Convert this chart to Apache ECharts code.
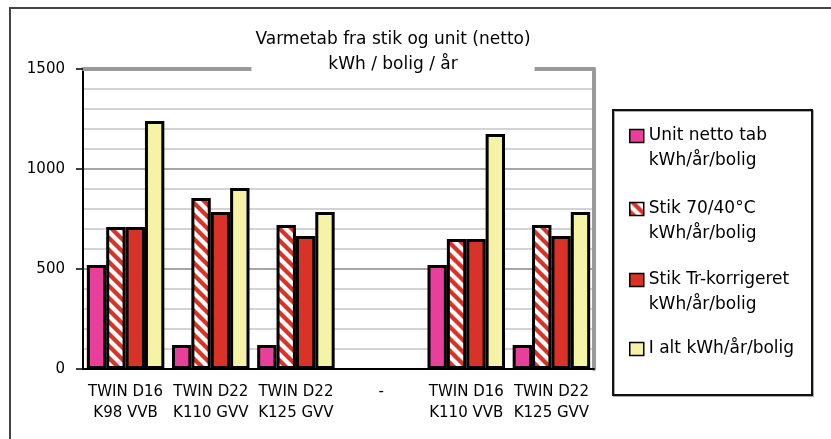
<!DOCTYPE html>
<html><head><meta charset="utf-8">
<script src="https://cdn.jsdelivr.net/npm/echarts@6/dist/echarts.min.js"></script>
<style>html,body{margin:0;padding:0;background:#fff}#c{width:831px;height:439px}</style>
</head><body><div id="c"></div>
<script>
const categories = ['TWIN D16\nK98 VVB', 'TWIN D22\nK110 GVV', 'TWIN D22\nK125 GVV', '-', 'TWIN D16\nK110 VVB', 'TWIN D22\nK125 GVV'];
const seriesNames = ['Unit netto tab kWh/år/bolig', 'Stik 70/40°C kWh/år/bolig', 'Stik Tr-korrigeret kWh/år/bolig', 'I alt kWh/år/bolig'];
const legendLabels = ['Unit netto tab\nkWh/år/bolig', 'Stik 70/40°C\nkWh/år/bolig', 'Stik Tr-korrigeret\nkWh/år/bolig', 'I alt kWh/år/bolig'];
const unitNetto = [520, 120, 120, null, 520, 120];
const stik7040 = [710, 855, 720, null, 650, 720];
const stikTr = [710, 785, 665, null, 650, 665];
const iAlt = [1240, 905, 785, null, 1175, 785];
const yTicks = [0, 500, 1000, 1500];
const titleLines = ['Varmetab fra stik og unit (netto)', 'kWh / bolig / år'];

const FONT = 'DejaVu Sans';
const PINK = '#e8409a', RED = '#d93226', YELLOW = '#f6f3a6';

function stripePattern() {
  const c = document.createElement('canvas'); c.width = 12; c.height = 12;
  const g = c.getContext('2d');
  g.fillStyle = '#fff'; g.fillRect(0, 0, 12, 12);
  g.fillStyle = RED;
  for (let k = -2; k <= 2; k++) {
    g.beginPath();
    g.moveTo(k * 12, 0); g.lineTo(k * 12 + 6, 0); g.lineTo(k * 12 + 18, 12); g.lineTo(k * 12 + 12, 12);
    g.closePath(); g.fill();
  }
  return c;
}
const fills = [PINK, { image: stripePattern(), repeat: 'repeat' }, RED, YELLOW];
const values = [unitNetto, stik7040, stikTr, iAlt];

const legendCenters = [136, 209, 280, 349];

const chart = echarts.init(document.getElementById('c'), null, { renderer: 'canvas' });
chart.setOption({
  animation: false,
  backgroundColor: '#fff',
  title: {
    text: titleLines.join('\n'),
    left: 389, top: 27, textAlign: 'center',
    padding: [0, 4, 2, 4],
    backgroundColor: '#fff',
    textStyle: { fontFamily: FONT, fontSize: 17, fontWeight: 'normal', color: '#000', lineHeight: 25 }
  },
  graphic: [
    { type: 'rect', shape: { x: 10, y: 8, width: 900, height: 600 }, style: { fill: 'none', stroke: '#444', lineWidth: 2 }, silent: true },
    { type: 'rect', shape: { x: 614, y: 111, width: 199, height: 285 }, style: { fill: 'none', stroke: '#aaa', lineWidth: 2 }, silent: true },
    { type: 'rect', shape: { x: 613, y: 110, width: 199, height: 285 }, style: { fill: 'none', stroke: '#111', lineWidth: 2 }, silent: true }
  ],
  legend: seriesNames.map((n, i) => ({
    data: [n], orient: 'vertical', left: 629,
    top: i < 3 ? legendCenters[i] - 37.5 : legendCenters[i] - 12.5,
    padding: 0, itemWidth: 14, itemHeight: 13, icon: 'rect', itemGap: 0,
    selectedMode: false,
    formatter: () => (i < 3 ? '\n' + legendLabels[i] : legendLabels[i]),
    textStyle: { fontFamily: FONT, fontSize: 17, lineHeight: 25, color: '#000' },
    itemStyle: { borderColor: '#000', borderWidth: 1.5 }
  })),
  grid: { left: 83, right: 237, top: 69, bottom: 70, containLabel: false },
  xAxis: [
    {
      type: 'category', data: categories, position: 'bottom',
      axisLine: { lineStyle: { color: '#000', width: 2 } },
      axisTick: { length: 5, lineStyle: { color: '#000', width: 1.5 } },
      axisLabel: { interval: 0, fontFamily: FONT, fontSize: 15, color: '#000', lineHeight: 21, margin: 13 },
      splitLine: { show: false }
    },
    {
      type: 'category', data: categories, position: 'top',
      axisLine: { onZero: false, lineStyle: { color: '#9a9a9a', width: 4 } },
      axisTick: { show: false }, axisLabel: { show: false }, splitLine: { show: false }
    }
  ],
  yAxis: [
    {
      type: 'value', min: yTicks[0], max: yTicks[yTicks.length - 1], interval: yTicks[1] - yTicks[0],
      axisLine: { show: true, lineStyle: { color: '#000', width: 2 } },
      axisTick: { show: true, length: 7, lineStyle: { color: '#000', width: 1.5 } },
      axisLabel: { fontFamily: FONT, fontSize: 15, color: '#000', margin: 18, formatter: v => String(v) },
      splitLine: { show: true, lineStyle: { color: '#a6a6a6', width: 2 } },
      minorTick: { show: false, splitNumber: 5 },
      minorSplitLine: { show: true, lineStyle: { color: '#d4d4d4', width: 2 } }
    },
    {
      type: 'value', min: yTicks[0], max: yTicks[yTicks.length - 1], interval: yTicks[1] - yTicks[0], position: 'right',
      axisLine: { show: true, onZero: false, lineStyle: { color: '#9a9a9a', width: 4 } },
      axisTick: { show: false }, axisLabel: { show: false }, splitLine: { show: false }
    }
  ],
  series: seriesNames.map((n, i) => ({
    name: n, type: 'bar', xAxisIndex: 0, yAxisIndex: 0,
    data: values[i],
    barGap: '0%', barCategoryGap: '9%',
    itemStyle: { color: fills[i], borderColor: '#000', borderWidth: 3 }
  }))
});
</script>
</body></html>
